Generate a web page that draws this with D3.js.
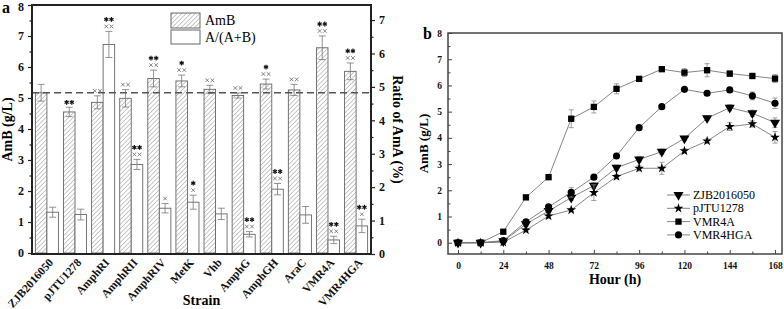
<!DOCTYPE html>
<html>
<head>
<meta charset="utf-8">
<script src="https://cdn.jsdelivr.net/npm/d3@7"></script>
<style>
  body { margin: 0; background: #fff; }
  svg { display: block; }
  svg text { font-family: "Liberation Serif", "Times New Roman", serif; }
</style>
</head>
<body>
<div id="chart"></div>
<script>
// Panel a: strains, AmB titre and AmA ratio
const strains = ["ZJB2016050", "pJTU1278", "AmphRI", "AmphRII", "AmphRIV", "MetK", "Vhb", "AmphG", "AmphGH", "AraC", "VMR4A", "VMR4HGA"];
const ambValues = [5.17, 4.55, 4.86, 4.99, 5.63, 5.55, 5.28, 5.08, 5.45, 5.26, 6.62, 5.86];
const ambErrors = [0.27, 0.15, 0.21, 0.28, 0.27, 0.19, 0.13, 0.08, 0.16, 0.18, 0.38, 0.27];
const ratioValues = [1.25, 1.18, 6.27, 2.68, 1.37, 1.55, 1.20, 0.59, 1.94, 1.17, 0.42, 0.84];
const ratioErrors = [0.15, 0.16, 0.39, 0.15, 0.14, 0.21, 0.17, 0.08, 0.17, 0.25, 0.11, 0.20];
// number of "*" and "×" marks above each bar
const ambStars = [0, 2, 0, 0, 2, 1, 0, 0, 1, 0, 2, 2];
const ambCrosses = [0, 0, 2, 2, 2, 2, 2, 2, 2, 2, 2, 2];
const ratioStars = [0, 0, 2, 2, 0, 1, 0, 2, 2, 0, 2, 2];
const ratioCrosses = [0, 0, 2, 2, 1, 1, 0, 2, 2, 0, 2, 1];
const leftTicks = [0, 1, 2, 3, 4, 5, 6, 7, 8];
const rightTicks = [0, 1, 2, 3, 4, 5, 6, 7];

// Panel b: fermentation time course
const hours = [0, 12, 24, 36, 48, 60, 72, 84, 96, 108, 120, 132, 144, 156, 168];
const zjbCurve = [0, 0, 0.06, 0.71, 1.21, 1.72, 2.18, 2.86, 3.18, 3.47, 3.98, 4.75, 5.15, 4.94, 4.58];
const zjbErr = [0.02, 0.02, 0.05, 0.08, 0.12, 0.10, 0.12, 0.10, 0.10, 0.10, 0.08, 0.08, 0.12, 0.12, 0.18];
const pjtuCurve = [0, 0, 0.02, 0.48, 1.02, 1.25, 1.91, 2.52, 2.84, 2.84, 3.50, 3.88, 4.43, 4.53, 4.02];
const pjtuErr = [0.02, 0.02, 0.05, 0.06, 0.08, 0.06, 0.30, 0.08, 0.10, 0.23, 0.08, 0.08, 0.15, 0.12, 0.22];
const vmr4aCurve = [0, 0, 0.42, 1.73, 2.50, 4.73, 5.18, 5.87, 6.25, 6.62, 6.49, 6.58, 6.45, 6.36, 6.26];
const vmr4aErr = [0.02, 0.02, 0.05, 0.05, 0.06, 0.34, 0.23, 0.19, 0.08, 0.08, 0.15, 0.25, 0.10, 0.10, 0.15];
const vmr4hgaCurve = [0, 0, 0.08, 0.80, 1.37, 1.92, 2.50, 3.31, 4.39, 5.19, 5.85, 5.70, 5.83, 5.60, 5.32];
const vmr4hgaErr = [0.02, 0.02, 0.05, 0.05, 0.08, 0.18, 0.08, 0.10, 0.06, 0.08, 0.06, 0.08, 0.10, 0.15, 0.20];
const hourTicks = [0, 24, 48, 72, 96, 120, 144, 168];
const bTicks = [0, 1, 2, 3, 4, 5, 6, 7, 8];

(function() {
  "use strict";

  const W = 784, H = 309;
  const serif = "Liberation Serif";
  const svg = d3.select("#chart").append("svg")
      .attr("width", W).attr("height", H)
      .attr("font-family", serif);

  // hatch pattern for the AmB bars
  svg.append("defs").append("pattern")
      .attr("id", "hatch")
      .attr("patternUnits", "userSpaceOnUse")
      .attr("width", 3.2).attr("height", 3.2)
      .attr("patternTransform", "rotate(45)")
    .append("line")
      .attr("x1", 0).attr("y1", 0).attr("x2", 0).attr("y2", 3.2)
      .attr("stroke", "#888").attr("stroke-width", 0.9);

  // ---------- panel a ----------
  const a = { left: 32, right: 371, top: 5, bottom: 254 };

  const x0 = d3.scaleBand().domain(strains)
      .range([a.left, a.right]).paddingInner(0.18).paddingOuter(0.12);
  const x1 = d3.scaleBand().domain(["amb", "ratio"]).range([0, x0.bandwidth()]);
  const yL = d3.scaleLinear().domain([0, 8]).range([a.bottom - 1, a.top]);
  const yR = d3.scaleLinear().domain([0, 7.45]).range([a.bottom, a.top]);

  const ga = svg.append("g");

  const rows = strains.map((s, i) => ({
    s, i,
    amb: ambValues[i], ambE: ambErrors[i], ambS: ambStars[i], ambC: ambCrosses[i],
    ratio: ratioValues[i], ratioE: ratioErrors[i], ratioS: ratioStars[i], ratioC: ratioCrosses[i]
  }));

  // bars
  ga.selectAll("rect.amb").data(rows).join("rect")
      .attr("x", d => x0(d.s) + x1("amb"))
      .attr("y", d => yL(d.amb))
      .attr("width", x1.bandwidth())
      .attr("height", d => yL(0) - yL(d.amb))
      .attr("fill", "url(#hatch)")
      .attr("stroke", "#666").attr("stroke-width", 0.9);

  ga.selectAll("rect.ratio").data(rows).join("rect")
      .attr("x", d => x0(d.s) + x1("ratio"))
      .attr("y", d => yR(d.ratio))
      .attr("width", x1.bandwidth())
      .attr("height", d => yR(0) - yR(d.ratio))
      .attr("fill", "#fff")
      .attr("stroke", "#666").attr("stroke-width", 0.9);

  // small drawn marks: asterisk (6 spokes) and cross
  function asterisk(g, cx, cy) {
    [90, 30, -30].forEach(ang => {
      const r = 2.4, t = ang * Math.PI / 180;
      g.append("line")
          .attr("x1", cx - r * Math.cos(t)).attr("y1", cy - r * Math.sin(t))
          .attr("x2", cx + r * Math.cos(t)).attr("y2", cy + r * Math.sin(t))
          .attr("stroke", "#111").attr("stroke-width", 1.2);
    });
  }
  function cross(g, cx, cy) {
    const r = 1.8;
    g.append("line").attr("x1", cx - r).attr("y1", cy - r).attr("x2", cx + r).attr("y2", cy + r)
        .attr("stroke", "#666").attr("stroke-width", 0.8);
    g.append("line").attr("x1", cx - r).attr("y1", cy + r).attr("x2", cx + r).attr("y2", cy - r)
        .attr("stroke", "#666").attr("stroke-width", 0.8);
  }
  function markRow(g, cx, cy, n, fn) {
    const gap = 5.2;
    for (let k = 0; k < n; k++) fn(g, cx + (k - (n - 1) / 2) * gap, cy);
  }

  // error bars and significance marks for both series
  function errorBars(key, errKey, starKey, crossKey, y) {
    const cx = d => x0(d.s) + x1(key) + x1.bandwidth() / 2;
    const g = ga.append("g").attr("stroke", "#777").attr("stroke-width", 0.8);
    const m = ga.append("g");
    rows.forEach(d => {
      const top = y(d[key] + d[errKey]), bot = y(d[key] - d[errKey]);
      g.append("line").attr("x1", cx(d)).attr("x2", cx(d)).attr("y1", top).attr("y2", bot);
      g.append("line").attr("x1", cx(d) - 3.5).attr("x2", cx(d) + 3.5).attr("y1", top).attr("y2", top);
      g.append("line").attr("x1", cx(d) - 3.5).attr("x2", cx(d) + 3.5).attr("y1", bot).attr("y2", bot);
      let c = top - 5;
      if (d[crossKey]) {
        markRow(m, cx(d), c, d[crossKey], cross);
        c -= 7;
      }
      if (d[starKey]) markRow(m, cx(d), c, d[starKey], asterisk);
    });
  }
  errorBars("amb", "ambE", "ambS", "ambC", yL);
  errorBars("ratio", "ratioE", "ratioS", "ratioC", yR);

  // dashed reference line at the control titre
  ga.append("line")
      .attr("x1", a.left).attr("x2", a.right)
      .attr("y1", yL(ambValues[0])).attr("y2", yL(ambValues[0]))
      .attr("stroke", "#555").attr("stroke-width", 1.6)
      .attr("stroke-dasharray", "7,4");

  // frame
  ga.append("rect")
      .attr("x", a.left).attr("y", a.top)
      .attr("width", a.right - a.left).attr("height", a.bottom - a.top)
      .attr("fill", "none").attr("stroke", "#222").attr("stroke-width", 2);

  // left axis
  const axL = ga.append("g").attr("transform", `translate(${a.left},0)`)
      .call(d3.axisLeft(yL).tickValues(leftTicks).tickSize(4).tickPadding(4).tickFormat(d3.format("d")));
  axL.append("g").call(d3.axisLeft(yL).tickValues(d3.range(0.5, 8, 1)).tickSize(2.5).tickFormat(""));
  axL.selectAll(".domain").remove();
  axL.selectAll("line").attr("stroke", "#222").attr("stroke-width", 1.2);
  axL.selectAll("text").attr("font-family", serif).attr("font-weight", "bold")
      .attr("font-size", 12).attr("fill", "#111");
  axL.selectAll(".tick text").filter(d => d === 8).attr("dy", "0.45em");

  // right axis
  const axR = ga.append("g").attr("transform", `translate(${a.right},0)`)
      .call(d3.axisRight(yR).tickValues(rightTicks).tickSize(4).tickPadding(4).tickFormat(d3.format("d")));
  axR.append("g").call(d3.axisRight(yR).tickValues(d3.range(0.5, 7.5, 1)).tickSize(2.5).tickFormat(""));
  axR.selectAll(".domain").remove();
  axR.selectAll("line").attr("stroke", "#222").attr("stroke-width", 1.2);
  axR.selectAll("text").attr("font-family", serif).attr("font-weight", "bold")
      .attr("font-size", 12).attr("fill", "#111");

  // bottom category labels
  ga.append("g").selectAll("text").data(strains).join("text")
      .attr("transform", d => `translate(${x0(d) + x0.bandwidth() / 2 + 7},${a.bottom + 9}) rotate(-48)`)
      .attr("text-anchor", "end")
      .attr("font-size", 11.5).attr("font-weight", "bold").attr("fill", "#111")
      .text(d => d);

  ga.append("text").attr("x", (a.left + a.right) / 2).attr("y", 305)
      .attr("text-anchor", "middle").attr("font-size", 14).attr("font-weight", "bold")
      .text("Strain");
  ga.append("text").attr("transform", `translate(12,${(a.top + a.bottom) / 2}) rotate(-90)`)
      .attr("text-anchor", "middle").attr("font-size", 14).attr("font-weight", "bold")
      .text("AmB (g/L)");
  ga.append("text").attr("transform", `translate(393,${(a.top + a.bottom) / 2}) rotate(90)`)
      .attr("text-anchor", "middle").attr("font-size", 14).attr("font-weight", "bold")
      .text("Ratio of AmA (%)");
  ga.append("text").attr("x", 2).attr("y", 13)
      .attr("font-size", 16).attr("font-weight", "bold").text("a");

  // legend
  const lg = ga.append("g");
  lg.append("rect").attr("x", 171).attr("y", 13).attr("width", 29).attr("height", 15)
      .attr("fill", "url(#hatch)").attr("stroke", "#666");
  lg.append("rect").attr("x", 171).attr("y", 30).attr("width", 29).attr("height", 14)
      .attr("fill", "#fff").attr("stroke", "#666");
  lg.append("text").attr("x", 205).attr("y", 25).attr("font-size", 14).text("AmB");
  lg.append("text").attr("x", 205).attr("y", 42).attr("font-size", 14).text("A/(A+B)");

  // ---------- panel b ----------
  const b = { left: 448, right: 782, top: 33, bottom: 254 };
  const xb = d3.scaleLinear().domain([-5.3, 171.7]).range([b.left, b.right]);
  const yb = d3.scaleLinear().domain([-0.43, 8]).range([b.bottom, b.top]);
  const gb = svg.append("g");

  const series = [
    { name: "ZJB2016050", values: zjbCurve, err: zjbErr, symbol: d3.symbolTriangle, size: 44, rot: 180 },
    { name: "pJTU1278", values: pjtuCurve, err: pjtuErr, symbol: d3.symbolStar, size: 30, rot: 0 },
    { name: "VMR4A", values: vmr4aCurve, err: vmr4aErr, symbol: d3.symbolSquare, size: 40, rot: 0 },
    { name: "VMR4HGA", values: vmr4hgaCurve, err: vmr4hgaErr, symbol: d3.symbolCircle, size: 40, rot: 0 }
  ];

  const line = d3.line().x(d => xb(d[0])).y(d => yb(d[1]));

  series.forEach(s => {
    const pts = hours.map((h, i) => [h, s.values[i], s.err[i]]);
    gb.append("path").datum(pts).attr("d", line)
        .attr("fill", "none").attr("stroke", "#777").attr("stroke-width", 0.9);
    const eb = gb.append("g").attr("stroke", "#888").attr("stroke-width", 0.8);
    pts.forEach(p => {
      const t = yb(p[1] + p[2]), u = yb(p[1] - p[2]);
      eb.append("line").attr("x1", xb(p[0])).attr("x2", xb(p[0])).attr("y1", t).attr("y2", u);
      eb.append("line").attr("x1", xb(p[0]) - 2.5).attr("x2", xb(p[0]) + 2.5).attr("y1", t).attr("y2", t);
      eb.append("line").attr("x1", xb(p[0]) - 2.5).attr("x2", xb(p[0]) + 2.5).attr("y1", u).attr("y2", u);
    });
    gb.append("g").selectAll("path").data(pts).join("path")
        .attr("transform", p => `translate(${xb(p[0])},${yb(p[1])}) rotate(${s.rot})`)
        .attr("d", d3.symbol(s.symbol, s.size))
        .attr("fill", "#000");
  });

  gb.append("rect")
      .attr("x", b.left).attr("y", b.top)
      .attr("width", b.right - b.left).attr("height", b.bottom - b.top)
      .attr("fill", "none").attr("stroke", "#444").attr("stroke-width", 1.5);

  // axes with inward ticks
  const axB = gb.append("g").attr("transform", `translate(0,${b.bottom})`)
      .call(d3.axisBottom(xb).tickValues(hourTicks).tickSize(-4).tickPadding(8).tickFormat(d3.format("d")));
  axB.append("g").call(d3.axisBottom(xb).tickValues(d3.range(12, 168, 24)).tickSize(-2.5).tickFormat(""));
  const axY = gb.append("g").attr("transform", `translate(${b.left},0)`)
      .call(d3.axisLeft(yb).tickValues(bTicks).tickSize(-4).tickPadding(6).tickFormat(d3.format("d")));
  axY.append("g").call(d3.axisLeft(yb).tickValues(d3.range(0.5, 8, 1)).tickSize(-2.5).tickFormat(""));
  [axB, axY].forEach(ax => {
    ax.selectAll(".domain").remove();
    ax.selectAll("line").attr("stroke", "#444").attr("stroke-width", 1);
    ax.selectAll("text").attr("font-family", serif).attr("font-weight", "bold")
        .attr("font-size", 9.5).attr("fill", "#111");
  });

  gb.append("text").attr("x", (b.left + b.right) / 2).attr("y", 284)
      .attr("text-anchor", "middle").attr("font-size", 14).attr("font-weight", "bold")
      .text("Hour (h)");
  gb.append("text").attr("transform", `translate(428,${(b.top + b.bottom) / 2}) rotate(-90)`)
      .attr("text-anchor", "middle").attr("font-size", 13).attr("font-weight", "bold")
      .text("AmB (g/L)");
  gb.append("text").attr("x", 423).attr("y", 39)
      .attr("font-size", 16).attr("font-weight", "bold").text("b");

  // legend b
  const lb = gb.append("g");
  series.forEach((s, i) => {
    const y = 195 + i * 13.3;
    lb.append("line").attr("x1", 667).attr("x2", 690).attr("y1", y).attr("y2", y)
        .attr("stroke", "#777").attr("stroke-width", 0.9);
    lb.append("path").attr("transform", `translate(678.5,${y}) rotate(${s.rot})`)
        .attr("d", d3.symbol(s.symbol, s.size)).attr("fill", "#000");
    lb.append("text").attr("x", 693).attr("y", y + 4)
        .attr("font-family", serif).attr("font-size", 12).text(s.name);
  });
})();
</script>
</body>
</html>
